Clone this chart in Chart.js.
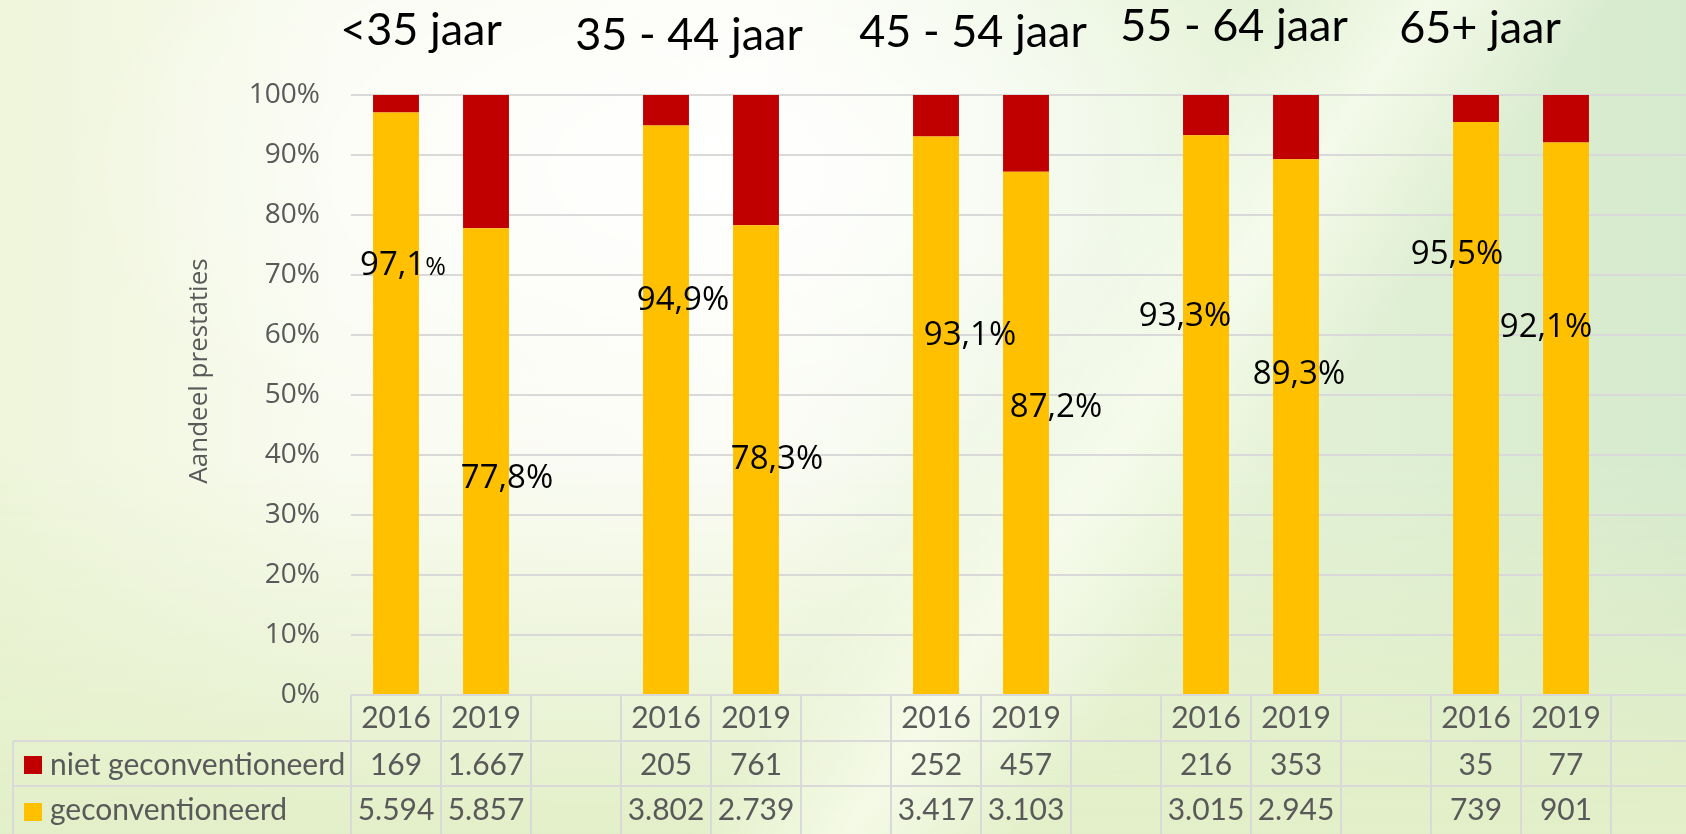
<!DOCTYPE html>
<html><head><meta charset="utf-8">
<script src="https://cdn.jsdelivr.net/npm/chart.js@4/dist/chart.umd.min.js"></script>
<style>
html,body{margin:0;padding:0;width:1686px;height:834px;overflow:hidden;}
body{background:
 radial-gradient(ellipse 650px 330px at 720px 170px, rgba(255,255,255,0.95), rgba(255,255,255,0) 100%),
 linear-gradient(125deg, rgba(255,255,255,0) 56%, rgba(250,253,240,0.75) 63%, rgba(255,255,255,0) 71%),
 linear-gradient(to top, #e3efc8 0%, rgba(230,241,205,0) 45%),
 linear-gradient(to right, #eef5da 0%, #f9fbf0 20%, #fbfcf5 45%, #e6f3d8 70%, #d6eacd 100%);}
#wrap{position:absolute;left:0;top:0;width:1720px;height:834px;}
</style></head><body>
<div id="wrap"><canvas id="c" width="1720" height="834"></canvas></div>
<script>
// ---- data ----
const groups = ['<35 jaar', '35 - 44 jaar', '45 - 54 jaar', '55 - 64 jaar', '65+ jaar'];
const years = ['2016', '2019'];
const geconvPct = [97.1, 77.8, 94.9, 78.3, 93.1, 87.2, 93.3, 89.3, 95.5, 92.1];
const nietCount = [169, 1667, 205, 761, 252, 457, 216, 353, 35, 77];
const geconvCount = [5594, 5857, 3802, 2739, 3417, 3103, 3015, 2945, 739, 901];
const seriesNames = ['niet geconventioneerd', 'geconventioneerd'];

// ---- label placement (style, not data): [dx px from bar centre, y in axis units] ----
const labelPlace = [[7,72.0],[21,36.5],[17,66.2],[21,39.7],[34,60.3],[30,48.3],[-21,63.5],[3,53.8],[-19,73.8],[-20,61.7]];
const titlePlace = [[-20,45],[-22,50],[-8,47],[-17,41],[-41,43]];

const RED = '#C00000', YEL = '#FFC000', GREY = '#595959', LINE = '#d9d9d9';

function hasFont(name){
  const c = document.createElement('canvas').getContext('2d');
  c.font = '40px monospace'; const w1 = c.measureText('geconventioneerd 2016').width;
  c.font = '40px "' + name + '", monospace'; return c.measureText('geconventioneerd 2016').width !== w1;
}
const tableFont = hasFont('Liberation Sans Narrow') ? '34px "Liberation Sans Narrow"' : '30px Lato';
const fmt = n => String(n).replace(/\B(?=(\d{3})+(?!\d))/g, '.');

// build slots: 2016, 2019, blank per group
const slotLabels = [], yelData = [], redData = [], barSlot = [];
groups.forEach((g, gi) => {
  years.forEach((yr, yi) => {
    const i = gi * 2 + yi;
    barSlot.push(slotLabels.length);
    slotLabels.push(yr);
    yelData.push(geconvPct[i]);
    redData.push(+(100 - geconvPct[i]).toFixed(1));
  });
  slotLabels.push(''); yelData.push(null); redData.push(null);
});

const overlay = {
  id: 'overlay',
  afterDraw(chart) {
    const { ctx, chartArea: a, scales: { x, y } } = chart;
    const slotW = x.getPixelForValue(1) - x.getPixelForValue(0);
    const W = chart.width, H = chart.height;
    ctx.save();
    // group titles
    ctx.fillStyle = '#000'; ctx.font = '45px Lato'; ctx.textAlign = 'center'; ctx.textBaseline = 'alphabetic';
    groups.forEach((g, gi) => {
      const cx = (x.getPixelForValue(barSlot[gi*2]) + x.getPixelForValue(barSlot[gi*2+1])) / 2;
      ctx.fillText(g, cx + titlePlace[gi][0], titlePlace[gi][1]);
    });
    // data labels
    geconvPct.forEach((p, i) => {
      const num = p.toFixed(1).replace('.', ',');
      const cx = x.getPixelForValue(barSlot[i]) + labelPlace[i][0];
      const cy = y.getPixelForValue(labelPlace[i][1]) + 12;
      if (i === 0) {
        // first label: smaller percent sign, as in the original
        ctx.font = '33px "Open Sans"'; const w1 = ctx.measureText(num).width;
        ctx.font = '25px "Open Sans"'; const w2 = ctx.measureText('%').width;
        const x0 = cx - (w1 + w2) / 2;
        ctx.textAlign = 'left';
        ctx.font = '33px "Open Sans"'; ctx.fillText(num, x0, cy);
        ctx.font = '25px "Open Sans"'; ctx.fillText('%', x0 + w1, cy);
        ctx.textAlign = 'center';
      } else {
        ctx.font = '33px "Open Sans"';
        ctx.fillText(num + '%', cx, cy);
      }
    });
    // y title
    ctx.save();
    ctx.translate(200, 371); ctx.rotate(-Math.PI / 2);
    ctx.fillStyle = GREY; ctx.font = '26px "Open Sans"'; ctx.textBaseline = 'middle';
    ctx.fillText('Aandeel prestaties', 0, 0);
    ctx.restore();
    // data table
    const top = a.bottom, r1 = top + 46, r2 = r1 + 45, bot = H, legL = 13;
    ctx.strokeStyle = LINE; ctx.lineWidth = 2;
    ctx.beginPath();
    ctx.moveTo(a.left, top); ctx.lineTo(W, top);
    ctx.moveTo(legL, r1); ctx.lineTo(W, r1);
    ctx.moveTo(legL, r2); ctx.lineTo(W, r2);
    ctx.moveTo(legL, r1); ctx.lineTo(legL, bot);
    for (let k = 0; k <= slotLabels.length; k++) {
      const lx = x.getPixelForValue(0) - slotW / 2 + k * slotW;
      ctx.moveTo(lx, top); ctx.lineTo(lx, bot);
    }
    ctx.stroke();
    ctx.font = tableFont; ctx.fillStyle = GREY; ctx.textAlign = 'center'; ctx.textBaseline = 'middle';
    slotLabels.forEach((lab, k) => { if (lab) ctx.fillText(lab, x.getPixelForValue(k), (top + r1) / 2); });
    barSlot.forEach((s, i) => {
      const cx = x.getPixelForValue(s);
      ctx.fillText(fmt(nietCount[i]), cx, (r1 + r2) / 2 + 2);
      ctx.fillText(fmt(geconvCount[i]), cx, (r2 + bot) / 2);
    });
    // legend keys
    ctx.textAlign = 'left';
    ctx.fillStyle = RED; ctx.fillRect(24, r1 + 15, 18, 18);
    ctx.fillStyle = YEL; ctx.fillRect(24, r2 + 17, 18, 18);
    ctx.fillStyle = GREY;
    ctx.fillText(seriesNames[0], 50, (r1 + r2) / 2 + 2);
    ctx.fillText(seriesNames[1], 50, (r2 + bot) / 2);
    ctx.restore();
  }
};

Chart.defaults.font.family = '"Open Sans"';
new Chart(document.getElementById('c'), {
  type: 'bar',
  data: {
    labels: slotLabels,
    datasets: [
      { label: seriesNames[1], data: yelData, backgroundColor: YEL, stack: 's' },
      { label: seriesNames[0], data: redData, backgroundColor: RED, stack: 's' }
    ]
  },
  options: {
    responsive: false,
    animation: false,
    layout: { padding: { top: 95, right: 19, bottom: 139, left: 0 } },
    plugins: { legend: { display: false }, tooltip: { enabled: false } },
    datasets: { bar: { barPercentage: 0.51, categoryPercentage: 1 } },
    scales: {
      x: { stacked: true, display: false },
      y: {
        stacked: true, min: 0, max: 100,
        afterFit: s => { s.width = 351; },
        ticks: { stepSize: 10, padding: 31, color: GREY, font: { size: 28 }, callback: v => v + '%' },
        grid: { color: LINE, lineWidth: 2, drawTicks: false },
        border: { display: false }
      }
    }
  },
  plugins: [overlay]
});
</script></body></html>
